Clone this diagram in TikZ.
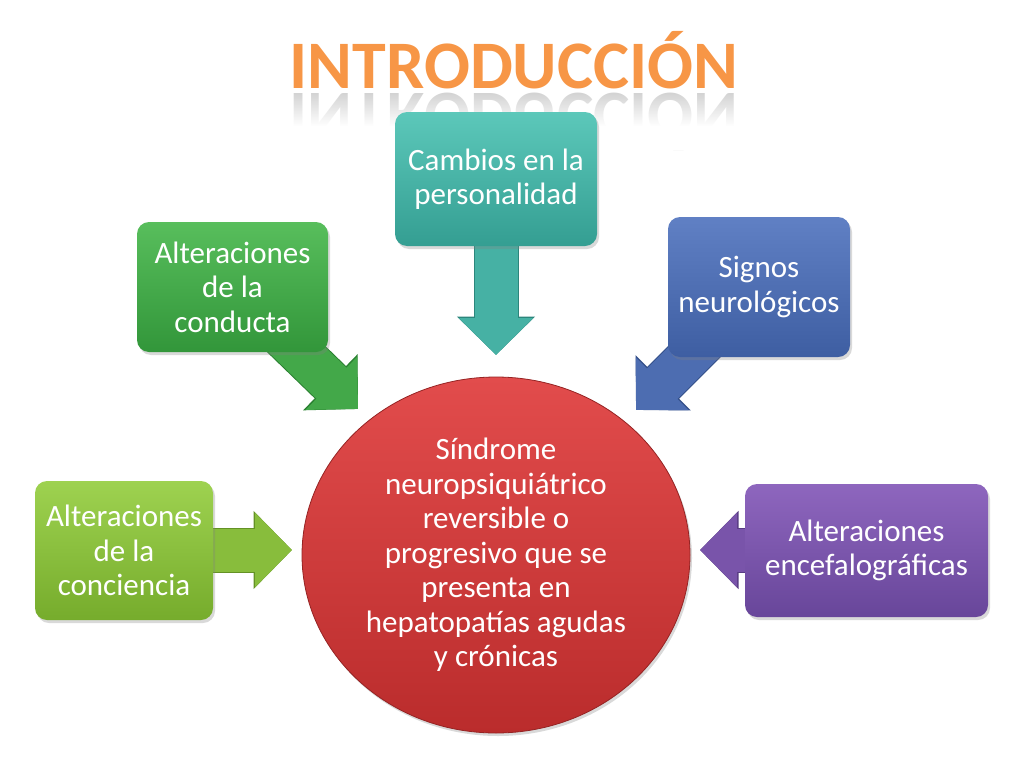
\documentclass[tikz,border=0pt]{standalone}
\usepackage{fontspec}
\setmainfont{Carlito}
\usetikzlibrary{shapes.geometric}
\usetikzlibrary{arrows.meta}
\usetikzlibrary{shadows}
\usetikzlibrary{fadings}
\definecolor{titleorange}{RGB}{247,150,70}
\definecolor{tealtop}{RGB}{92,200,186}
\definecolor{tealbot}{RGB}{52,158,146}
\definecolor{greentop}{RGB}{88,190,92}
\definecolor{greenbot}{RGB}{50,150,58}
\definecolor{bluetop}{RGB}{96,128,196}
\definecolor{bluebot}{RGB}{62,94,162}
\definecolor{limetop}{RGB}{158,210,80}
\definecolor{limebot}{RGB}{118,172,44}
\definecolor{violettop}{RGB}{142,102,190}
\definecolor{violetbot}{RGB}{104,70,154}
\definecolor{redtop}{RGB}{226,76,76}
\definecolor{redbot}{RGB}{186,44,44}
\tikzstyle{box}=[rounded corners=12pt, inner sep=0, text=white, align=center,
                 font=\fontsize{31}{34.5}\selectfont,
                 drop shadow={shadow xshift=2pt, shadow yshift=-3pt, opacity=0.3}]
\tikzset{blockarrow/.style 2 args={line width=43pt, draw=#1,
         -{Triangle[length=37pt, width=72pt]},
         preaction={draw=#2, line width=45pt, -{Triangle[length=38.5pt, width=76pt]}}}}

\begin{document}
\begin{tikzpicture}[x=1pt, y=-1pt]
        \useasboundingbox (0, 0) rectangle (1024, 768);
        % title and its reflection
        \node[anchor=base, text=titleorange, font=\fontsize{68}{80}\bfseries] (title) at (514, 88) {INTRODUCCIÓN};
        \node[anchor=base, yscale=-1, text=gray!35, font=\fontsize{68}{80}\bfseries] (titlemirror) at (514, 93) {INTRODUCCIÓN};
        \fill[white, path fading=north] (260, 92) rectangle (770, 126);
        \fill[white] (260, 126) rectangle (770, 150);
        % free ends of the arrows
        \coordinate (tipC) at (496, 355);
        \coordinate (tipA) at (358, 409);
        \coordinate (tipS) at (636, 410);
        \coordinate (tipL) at (292, 550);
        \coordinate (tipE) at (700, 550);
        \coordinate (startC) at (496, 200);
        \coordinate (startA) at (260, 314);
        \coordinate (startS) at (731, 315);
        \coordinate (startL) at (160, 550);
        \coordinate (startE) at (830, 550);
        \draw[blockarrow={tealtop!45!tealbot}{tealbot!85!black}] (startC) -- (tipC);
        \draw[blockarrow={greentop!45!greenbot}{greenbot!85!black}] (startA) -- (tipA);
        \draw[blockarrow={bluetop!45!bluebot}{bluebot!85!black}] (startS) -- (tipS);
        \draw[blockarrow={limetop!45!limebot}{limebot!85!black}] (startL) -- (tipL);
        \draw[blockarrow={violettop!45!violetbot}{violetbot!85!black}] (startE) -- (tipE);
        % boxes
        \node[box, top color=tealtop, bottom color=tealbot, minimum width=202pt, minimum height=134pt] (cambios) at (496, 179) {Cambios en la\\personalidad};
        \node[box, top color=greentop, bottom color=greenbot, minimum width=191pt, minimum height=130pt] (conducta) at (232.5, 287) {Alteraciones\\de la\\conducta};
        \node[box, top color=bluetop, bottom color=bluebot, minimum width=182pt, minimum height=140pt] (signos) at (759, 287) {Signos\\neurológicos};
        \node[box, top color=limetop, bottom color=limebot, minimum width=178pt, minimum height=139pt] (conciencia) at (124, 550.5) {Alteraciones\\de la\\conciencia};
        \node[box, top color=violettop, bottom color=violetbot, minimum width=243pt, minimum height=133pt] (encefalo) at (866.5, 550.5) {Alteraciones\\encefalográficas};
        % centre
        \node[ellipse, box, draw=redbot!80!black, line width=0.8pt, top color=redtop, bottom color=redbot,
              minimum width=388pt, minimum height=356pt] (sindrome) at (496, 555)
              {Síndrome\\neuropsiquiátrico\\reversible o\\progresivo que se\\presenta en\\hepatopatías agudas\\y crónicas};
    \end{tikzpicture}
\end{document}
